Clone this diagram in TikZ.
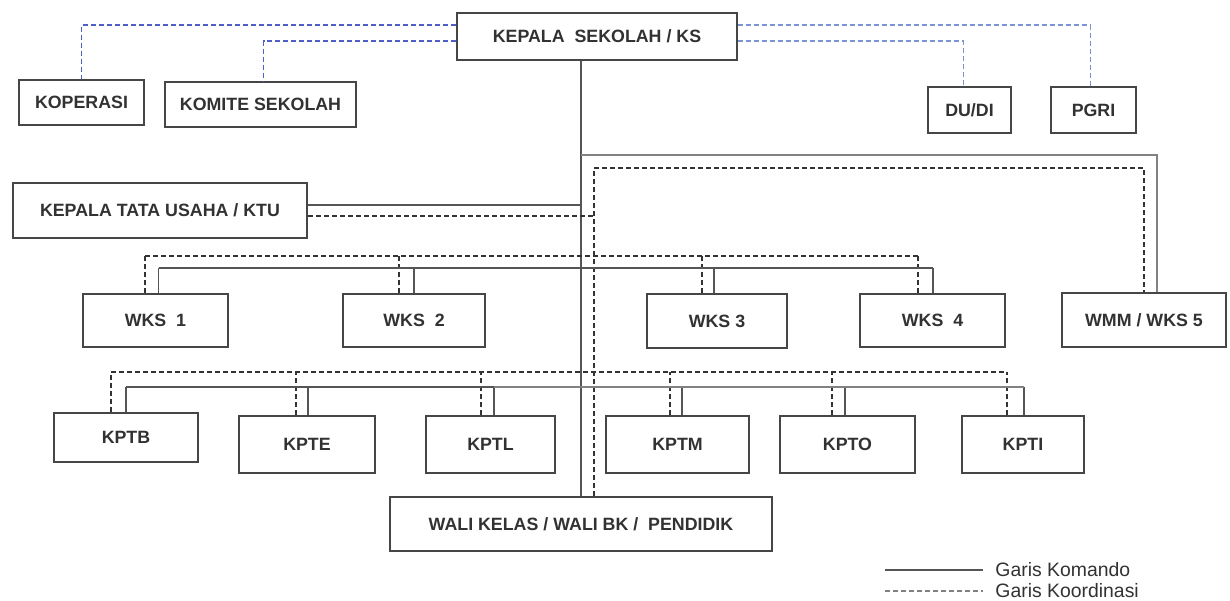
\documentclass[tikz,border=0pt]{standalone}
\usepackage{fontspec}
\setmainfont{Liberation Sans}
\usetikzlibrary{calc}
\definecolor{lncol}{RGB}{85,85,85}
\definecolor{lnlight}{RGB}{130,130,130}
\definecolor{bxcol}{RGB}{70,70,70}
\definecolor{txcol}{RGB}{50,50,50}
\definecolor{bluel}{RGB}{80,95,200}
\definecolor{bluer}{RGB}{120,150,205}
\begin{document}
\begin{tikzpicture}[x=0.5pt,y=-0.5pt,
  bx/.style 2 args={draw=bxcol, line width=1pt, fill=white,
    minimum width=#1*0.5pt, minimum height=#2*0.5pt, inner sep=0pt,
    font=\fontsize{8.9}{10}\selectfont\bfseries, text=txcol},
  cmd/.style={draw=lncol, line width=0.8pt},
  cmdl/.style={draw=lnlight, line width=0.8pt},
  crd/.style={draw=black!80, line width=0.8pt, dash pattern=on 2.5pt off 1.5pt},
  crdb/.style={crd, draw=bluel},
  crdr/.style={crd, draw=bluer},
  lgt/.style={font=\fontsize{9.7}{11}\selectfont, text=txcol, anchor=west, inner sep=0pt}]
\useasboundingbox (0,0) rectangle (1230,600);

% boxes
\node[bx={280}{47}] (ks) at (597,36.5) {KEPALA\ \ SEKOLAH / KS};
\node[bx={125}{45}] (kop) at (81.5,102.5) {KOPERASI};
\node[bx={191}{45}] (kom) at (260.5,104.5) {KOMITE SEKOLAH};
\node[bx={83}{46}] (dudi) at (969.5,110) {DU/DI};
\node[bx={85}{46}] (pgri) at (1093.5,110) {PGRI};
\node[bx={294}{55}] (ktu) at (160,210.5) {KEPALA TATA USAHA / KTU};
\node[bx={145}{53}] (w1) at (155.5,320.5) {WKS\ \ 1};
\node[bx={142}{53}] (w2) at (414,320.5) {WKS\ \ 2};
\node[bx={140}{54}] (w3) at (717,321) {WKS 3};
\node[bx={145}{53}] (w4) at (932.5,320) {WKS\ \ 4};
\node[bx={164}{54}] (w5) at (1144,320) {WMM / WKS 5};
\node[bx={144}{49}] (kptb) at (126,437.5) {KPTB};
\node[bx={136}{57}] (kpte) at (307,444.5) {KPTE};
\node[bx={129}{57}] (kptl) at (490.5,444.5) {KPTL};
\node[bx={143}{57}] (kptm) at (677.5,444.5) {KPTM};
\node[bx={135}{57}] (kpto) at (847.5,444.5) {KPTO};
\node[bx={122}{57}] (kpti) at (1023,444.5) {KPTI};
\node[bx={382}{54}] (wali) at (581,524) {WALI KELAS / WALI BK /\ \ PENDIDIK};

% level coordinates
\coordinate (ytopS) at (0,155);
\coordinate (ytopD) at (0,168);
\coordinate (ywD) at (0,256);
\coordinate (ywS) at (0,268);
\coordinate (ykD) at (0,372);
\coordinate (ykS) at (0,387);
\coordinate (dv) at (594,0);

% coordination lines to outside partners
\draw[crdb] ($(ks.north west)+(0,13)$) -| (kop.north);
\draw[crdb] ($(ks.north west)+(0,29)$) -| ($(kom.north)+(3,0)$);
\draw[crdr] ($(ks.north east)+(0,13)$) -| ($(pgri.north)+(-3,0)$);
\draw[crdr] ($(ks.north east)+(0,29)$) -| ($(dudi.north)+(-6,0)$);

% trunk
\draw[cmd] (wali.north |- ks.south) -- (wali.north);
\draw[crd] (dv |- wali.north) -- (dv |- ytopD) -| (w5.north);
\draw[cmdl] (wali.north |- ytopS) -| ($(w5.north)+(13,0)$);

% KTU
\coordinate (ktuS) at ($(ktu.east)+(0,-5.5)$);
\coordinate (ktuD) at ($(ktu.east)+(0,5.5)$);
\draw[cmd] (ktuS) -- (wali.north |- ktuS);
\draw[crd] (ktuD) -- (dv |- ktuD);

% WKS row
\foreach \n/\s/\d in {w1/3/-10.5,w2/0/-15,w3/-3/-15,w4/0.5/-14.5}{
  \coordinate (s\n) at ($(\n.north)+(\s,0)$);
  \coordinate (d\n) at ($(\n.north)+(\d,0)$);
  \draw[cmd] (s\n) -- (s\n |- ywS);
  \draw[crd] (d\n) -- (d\n |- ywD);
}
\draw[cmd] (sw1 |- ywS) -- (sw4 |- ywS);
\draw[crd] (dw1 |- ywD) -- (dw4 |- ywD);

% KPT row
\foreach \n/\s/\d in {kptb/0/-15,kpte/1/-11,kptl/3.5/-9.5,kptm/4.5/-7.5,kpto/-2.5/-15.5,kpti/1/-16}{
  \coordinate (s\n) at ($(\n.north)+(\s,0)$);
  \coordinate (d\n) at ($(\n.north)+(\d,0)$);
  \draw[cmd] (s\n) -- (s\n |- ykS);
  \draw[crd] (d\n) -- (d\n |- ykD);
}
\draw[cmd] (skptb |- ykS) -- (skptl |- ykS);
\draw[cmdl] (skptl |- ykS) -- (skpti |- ykS);
\draw[crd] (dkptb |- ykD) -- (dkpti |- ykD);

% legend
\node[lgt] (lk) at (995,570) {Garis Komando};
\node[lgt] (lc) at (995,591) {Garis Koordinasi};
\coordinate (lka) at (885,570);
\coordinate (lca) at (885,591);
\draw[cmd] (lka) -- ($(lk.west)+(-12,0)$);
\draw[crd, draw=gray] (lca) -- ($(lc.west)+(-12,0)$);
\end{tikzpicture}
\end{document}
